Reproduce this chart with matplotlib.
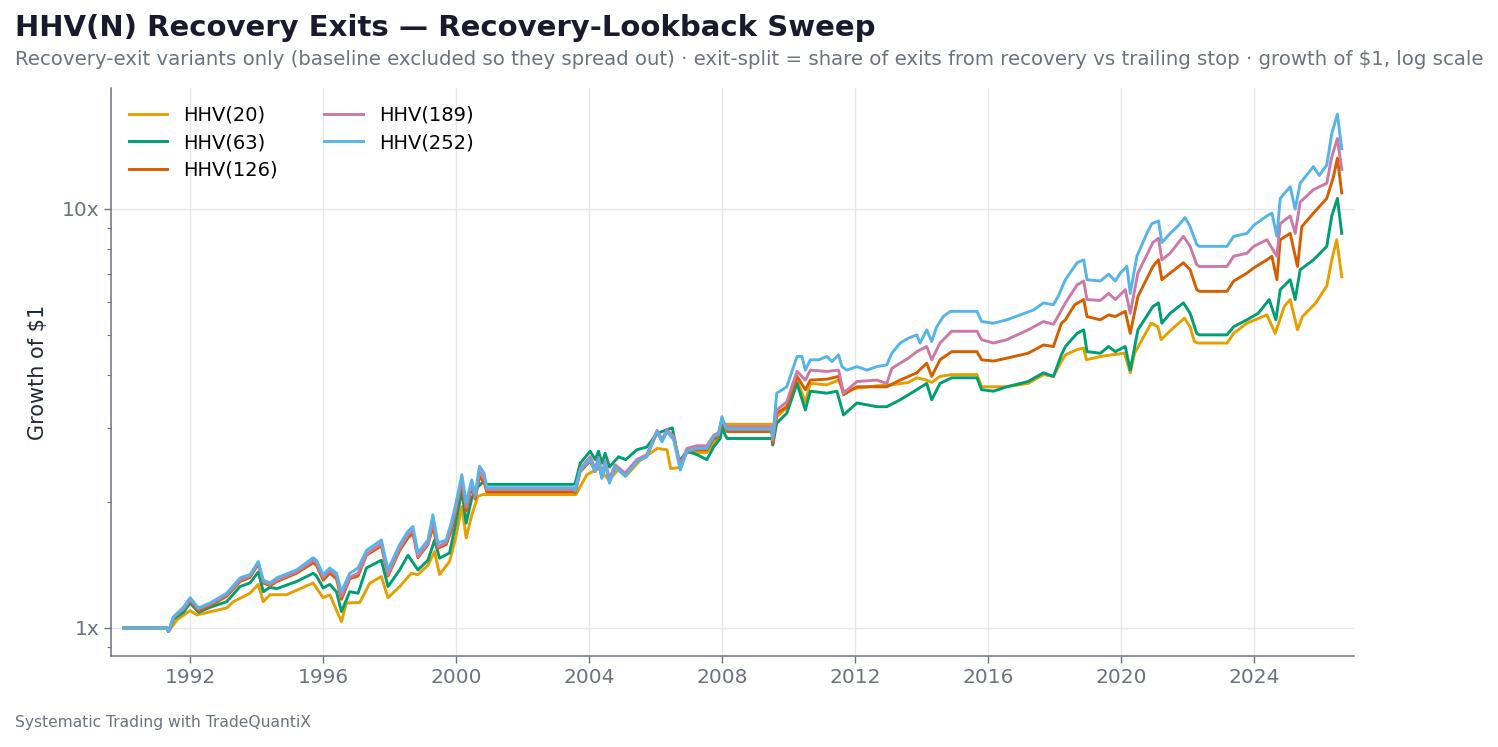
import numpy as np
import matplotlib
matplotlib.use("Agg")
import matplotlib.pyplot as plt
from matplotlib.ticker import FixedLocator, FixedFormatter, LogLocator, NullFormatter

# values (decimal year, growth of $1)
yr_20 = [1990.0, 1991.3, 1991.35, 1991.6, 1992.0, 1992.2, 1993.1, 1993.3, 1993.8, 1994.05, 1994.2, 1994.4,
         1994.9, 1995.7, 1996.0, 1996.2, 1996.55, 1996.7, 1997.1, 1997.4, 1997.75, 1997.95, 1998.3, 1998.65,
         1998.85, 1999.15, 1999.35, 1999.5, 1999.8, 1999.97, 2000.17, 2000.3, 2000.47, 2000.65, 2000.8,
         2003.53, 2003.6, 2003.93, 2004.28, 2004.6, 2004.9, 2005.1, 2005.5, 2006.04, 2006.34, 2006.45, 2006.7,
         2006.94, 2007.54, 2007.8, 2008.0, 2008.1, 2009.49, 2009.52, 2009.64, 2009.94, 2010.25, 2010.5,
         2010.65, 2011.15, 2011.5, 2011.65, 2012.05, 2012.65, 2013.1, 2013.6, 2013.85, 2014.15, 2014.3,
         2014.55, 2014.9, 2015.66, 2015.8, 2016.16, 2016.56, 2017.2, 2017.66, 2017.96, 2018.2, 2018.32,
         2018.67, 2018.87, 2018.95, 2019.37, 2019.7, 2020.1, 2020.27, 2020.4, 2020.9, 2021.1, 2021.2, 2021.5,
         2021.9, 2022.07, 2022.2, 2022.3, 2023.18, 2023.38, 2023.78, 2024.38, 2024.63, 2024.9, 2025.08,
         2025.3, 2025.45, 2025.85, 2026.18, 2026.33, 2026.48, 2026.63]
val_20 = [1.0, 1.0, 0.98, 1.045, 1.10, 1.074, 1.116, 1.155, 1.21, 1.27, 1.155, 1.20,
          1.20, 1.28, 1.18, 1.20, 1.035, 1.147, 1.15, 1.278, 1.326, 1.18, 1.255, 1.35,
          1.34, 1.41, 1.52, 1.34, 1.44, 1.62, 1.947, 1.64, 1.86, 2.06, 2.08,
          2.08, 2.08, 2.32, 2.40, 2.25, 2.40, 2.30, 2.495, 2.68, 2.66, 2.40, 2.41,
          2.62, 2.62, 2.78, 3.11, 3.06, 3.06, 2.80, 3.19, 3.35, 3.90, 3.46,
          3.83, 3.80, 3.90, 3.67, 3.73, 3.78, 3.80, 3.85, 3.95, 3.90, 3.85,
          3.98, 4.02, 4.02, 3.76, 3.76, 3.76, 3.83, 4.02, 3.98, 4.32, 4.48,
          4.61, 4.65, 4.36, 4.44, 4.48, 4.52, 4.06, 4.52, 5.33, 5.23, 4.87, 5.14,
          5.48, 5.23, 4.82, 4.78, 4.78, 5.04, 5.33, 5.58, 5.04, 5.84, 6.07,
          5.14, 5.53, 5.96, 6.54, 7.55, 8.43, 6.88]

yr_63 = [1990.0, 1991.3, 1991.35, 1991.5, 1991.8, 1992.0, 1992.25, 1992.6, 1993.1, 1993.5, 1993.8, 1994.05,
         1994.2, 1994.4, 1994.6, 1995.2, 1995.7, 1995.8, 1996.0, 1996.2, 1996.4, 1996.55, 1996.8, 1997.05,
         1997.3, 1997.75, 1997.95, 1998.3, 1998.55, 1998.85, 1999.15, 1999.35, 1999.5, 1999.8, 1999.97,
         2000.17, 2000.3, 2000.47, 2000.65, 2000.84, 2000.92, 2003.53, 2003.58, 2003.73, 2004.03, 2004.18,
         2004.28, 2004.38, 2004.48, 2004.61, 2004.88, 2005.1, 2005.43, 2005.73, 2006.04, 2006.34, 2006.5,
         2006.7, 2006.94, 2007.24, 2007.54, 2007.74, 2007.94, 2008.0, 2008.09, 2008.15, 2009.49, 2009.52,
         2009.64, 2009.94, 2010.25, 2010.5, 2010.65, 2011.15, 2011.45, 2011.65, 2012.05, 2012.65, 2012.95,
         2013.35, 2013.85, 2014.15, 2014.3, 2014.55, 2014.9, 2015.66, 2015.8, 2016.16, 2016.56, 2017.2,
         2017.66, 2017.96, 2018.2, 2018.32, 2018.67, 2018.87, 2018.97, 2019.37, 2019.62, 2019.82, 2020.12,
         2020.27, 2020.5, 2020.95, 2021.12, 2021.22, 2021.47, 2021.87, 2022.07, 2022.27, 2022.35, 2023.18,
         2023.38, 2023.78, 2024.12, 2024.45, 2024.65, 2024.78, 2025.08, 2025.23, 2025.38, 2025.78, 2026.18,
         2026.33, 2026.5, 2026.63]
val_63 = [1.0, 1.0, 0.98, 1.05, 1.09, 1.147, 1.09, 1.12, 1.155, 1.255, 1.28, 1.36,
          1.22, 1.25, 1.24, 1.29, 1.35, 1.33, 1.245, 1.27, 1.22, 1.094, 1.22, 1.21,
          1.39, 1.45, 1.255, 1.375, 1.49, 1.375, 1.45, 1.62, 1.466, 1.51, 1.745,
          2.135, 1.777, 2.04, 2.17, 2.24, 2.20, 2.20, 2.215, 2.47, 2.64, 2.52,
          2.64, 2.47, 2.61, 2.42, 2.56, 2.52, 2.66, 2.70, 2.91, 2.97, 3.0,
          2.495, 2.64, 2.59, 2.52, 2.70, 2.83, 3.02, 2.88, 2.83, 2.83, 2.73,
          3.08, 3.25, 3.83, 3.31, 3.67, 3.63, 3.67, 3.22, 3.44, 3.37, 3.37,
          3.50, 3.70, 3.83, 3.50, 3.83, 3.95, 3.95, 3.70, 3.67, 3.76, 3.87,
          4.06, 3.98, 4.48, 4.69, 5.04, 5.14, 4.56, 4.52, 4.69, 4.56, 4.69,
          4.12, 5.14, 5.84, 5.96, 5.33, 5.63, 5.96, 5.63, 5.04, 5.0, 5.0,
          5.23, 5.43, 5.63, 6.07, 5.43, 6.41, 6.77, 6.07, 7.15, 7.55, 8.13,
          9.61, 10.58, 8.73]

yr_126 = [1990.0, 1991.3, 1991.35, 1991.5, 1991.8, 1992.0, 1992.25, 1992.6, 1993.1, 1993.5, 1993.8, 1994.05,
          1994.2, 1994.4, 1994.6, 1995.2, 1995.7, 1995.8, 1996.0, 1996.2, 1996.4, 1996.55, 1996.8, 1997.05,
          1997.3, 1997.75, 1997.95, 1998.3, 1998.55, 1998.7, 1998.85, 1999.15, 1999.3, 1999.45, 1999.7,
          1999.85, 1999.97, 2000.17, 2000.3, 2000.47, 2000.57, 2000.7, 2000.84, 2000.92, 2003.53, 2003.58,
          2003.73, 2004.03, 2004.18, 2004.28, 2004.38, 2004.48, 2004.61, 2004.78, 2005.08, 2005.43, 2005.73,
          2006.04, 2006.19, 2006.34, 2006.54, 2006.74, 2006.94, 2007.24, 2007.54, 2007.74, 2007.89, 2007.99,
          2008.09, 2008.15, 2009.49, 2009.52, 2009.64, 2009.94, 2010.25, 2010.5, 2010.65, 2011.15, 2011.5,
          2011.65, 2012.05, 2012.65, 2012.95, 2013.35, 2013.85, 2014.15, 2014.3, 2014.55, 2014.9, 2015.66,
          2015.8, 2016.16, 2016.56, 2017.2, 2017.66, 2017.96, 2018.2, 2018.32, 2018.6, 2018.87, 2018.97,
          2019.37, 2019.62, 2019.82, 2020.12, 2020.27, 2020.5, 2020.95, 2021.12, 2021.22, 2021.47, 2021.87,
          2022.07, 2022.27, 2022.35, 2023.18, 2023.38, 2023.78, 2023.98, 2024.38, 2024.53, 2024.68, 2024.78,
          2025.08, 2025.3, 2025.43, 2025.78, 2026.18, 2026.38, 2026.5, 2026.63]
val_126 = [1.0, 1.0, 0.98, 1.06, 1.11, 1.16, 1.10, 1.13, 1.19, 1.29, 1.32, 1.42,
           1.28, 1.26, 1.29, 1.35, 1.43, 1.41, 1.30, 1.35, 1.31, 1.17, 1.31, 1.33,
           1.49, 1.57, 1.33, 1.53, 1.64, 1.68, 1.47, 1.58, 1.74, 1.55, 1.58,
           1.70, 1.86, 2.22, 1.90, 2.17, 2.03, 2.30, 2.22, 2.11, 2.11, 2.10,
           2.36, 2.50, 2.36, 2.50, 2.28, 2.46, 2.24, 2.42, 2.32, 2.50, 2.57,
           2.92, 2.80, 2.94, 2.84, 2.43, 2.64, 2.66, 2.66, 2.82, 2.86, 3.12,
           3.0, 2.94, 2.94, 2.76, 3.25, 3.37, 3.98, 3.70, 3.90, 3.92, 3.98,
           3.60, 3.76, 3.76, 3.76, 3.90, 4.06, 4.28, 3.98, 4.36, 4.56, 4.56,
           4.36, 4.33, 4.40, 4.52, 4.73, 4.69, 5.33, 5.43, 5.90, 6.07, 5.53,
           5.43, 5.58, 5.53, 5.69, 5.04, 6.17, 7.28, 7.55, 6.77, 7.02, 7.43,
           7.15, 6.41, 6.35, 6.35, 6.72, 7.02, 7.22, 7.55, 7.70, 6.77, 8.43,
           8.73, 7.28, 9.06, 9.76, 10.58, 11.9, 13.2, 10.9]

yr_189 = [1990.0, 1991.3, 1991.35, 1991.5, 1991.8, 1992.0, 1992.25, 1992.6, 1993.1, 1993.5, 1993.8, 1994.05,
          1994.2, 1994.4, 1994.6, 1995.2, 1995.7, 1995.8, 1996.0, 1996.2, 1996.4, 1996.55, 1996.8, 1997.05,
          1997.3, 1997.75, 1997.95, 1998.3, 1998.55, 1998.7, 1998.85, 1999.15, 1999.3, 1999.45, 1999.7,
          1999.85, 1999.97, 2000.17, 2000.3, 2000.47, 2000.57, 2000.7, 2000.84, 2000.92, 2003.53, 2003.58,
          2003.73, 2004.03, 2004.18, 2004.28, 2004.38, 2004.48, 2004.61, 2004.78, 2005.08, 2005.43, 2005.73,
          2006.04, 2006.19, 2006.34, 2006.54, 2006.74, 2006.94, 2007.24, 2007.54, 2007.74, 2007.89, 2007.99,
          2008.09, 2008.15, 2009.49, 2009.52, 2009.64, 2009.94, 2010.25, 2010.5, 2010.65, 2011.15, 2011.5,
          2011.65, 2012.05, 2012.65, 2012.95, 2013.1, 2013.6, 2013.85, 2014.15, 2014.3, 2014.55, 2014.9,
          2015.66, 2015.8, 2016.16, 2016.56, 2017.2, 2017.66, 2017.96, 2018.15, 2018.32, 2018.67, 2018.87,
          2018.97, 2019.37, 2019.62, 2019.82, 2020.12, 2020.27, 2020.5, 2020.95, 2021.12, 2021.22, 2021.47,
          2021.87, 2022.07, 2022.27, 2022.35, 2023.18, 2023.38, 2023.78, 2023.98, 2024.38, 2024.68, 2024.78,
          2025.08, 2025.23, 2025.38, 2025.78, 2026.18, 2026.33, 2026.5, 2026.63]
val_189 = [1.0, 1.0, 0.98, 1.06, 1.11, 1.17, 1.11, 1.14, 1.20, 1.30, 1.33, 1.43,
           1.29, 1.27, 1.30, 1.36, 1.45, 1.43, 1.32, 1.37, 1.33, 1.19, 1.32, 1.35,
           1.50, 1.59, 1.34, 1.55, 1.67, 1.71, 1.48, 1.59, 1.80, 1.56, 1.60,
           1.74, 1.90, 2.27, 1.94, 2.21, 2.05, 2.36, 2.28, 2.14, 2.14, 2.12,
           2.40, 2.56, 2.40, 2.55, 2.32, 2.50, 2.27, 2.45, 2.34, 2.52, 2.59,
           2.96, 2.82, 2.97, 2.86, 2.45, 2.68, 2.72, 2.72, 2.88, 2.92, 3.15,
           3.05, 3.02, 3.02, 2.80, 3.31, 3.46, 4.09, 3.90, 4.12, 4.09, 4.12,
           3.63, 3.87, 3.90, 3.83, 4.16, 4.40, 4.56, 4.69, 4.36, 4.78, 5.10,
           5.10, 4.87, 4.78, 4.87, 5.14, 5.38, 5.30, 5.63, 5.96, 6.58, 6.72,
           6.07, 6.04, 6.28, 6.07, 6.41, 5.63, 7.02, 8.30, 8.50, 7.55, 7.83,
           8.59, 8.13, 7.35, 7.28, 7.28, 7.70, 7.83, 8.13, 8.43, 7.70, 9.21,
           9.61, 8.73, 10.37, 11.1, 11.5, 13.3, 14.7, 12.4]

yr_252 = [1990.0, 1991.3, 1991.35, 1991.5, 1991.8, 1992.0, 1992.25, 1992.6, 1993.1, 1993.5, 1993.8, 1994.05,
          1994.2, 1994.4, 1994.6, 1995.2, 1995.7, 1995.8, 1996.0, 1996.2, 1996.4, 1996.55, 1996.8, 1997.05,
          1997.3, 1997.75, 1997.95, 1998.3, 1998.55, 1998.7, 1998.85, 1999.15, 1999.3, 1999.45, 1999.7,
          1999.85, 1999.97, 2000.17, 2000.3, 2000.47, 2000.57, 2000.7, 2000.84, 2000.92, 2003.53, 2003.58,
          2003.73, 2004.03, 2004.18, 2004.28, 2004.38, 2004.48, 2004.61, 2004.78, 2005.08, 2005.43, 2005.73,
          2006.04, 2006.19, 2006.34, 2006.54, 2006.74, 2006.94, 2007.24, 2007.54, 2007.74, 2007.89, 2007.99,
          2008.09, 2008.15, 2009.49, 2009.52, 2009.64, 2009.94, 2010.25, 2010.4, 2010.5, 2010.65, 2010.9,
          2011.15, 2011.3, 2011.5, 2011.6, 2011.75, 2012.05, 2012.35, 2012.65, 2012.95, 2013.1, 2013.35,
          2013.6, 2013.85, 2013.95, 2014.15, 2014.3, 2014.45, 2014.65, 2014.86, 2015.66, 2015.8, 2016.16,
          2016.56, 2016.96, 2017.36, 2017.66, 2017.96, 2018.1, 2018.32, 2018.67, 2018.87, 2018.97, 2019.37,
          2019.62, 2019.82, 2019.97, 2020.17, 2020.27, 2020.47, 2020.77, 2020.92, 2021.12, 2021.22, 2021.47,
          2021.72, 2021.92, 2022.07, 2022.27, 2022.35, 2023.18, 2023.38, 2023.78, 2023.98, 2024.38, 2024.53,
          2024.68, 2024.78, 2025.08, 2025.23, 2025.38, 2025.78, 2025.95, 2026.18, 2026.33, 2026.5, 2026.63]
val_252 = [1.0, 1.0, 0.98, 1.064, 1.12, 1.18, 1.116, 1.147, 1.21, 1.316, 1.34, 1.44,
           1.30, 1.28, 1.316, 1.375, 1.47, 1.45, 1.34, 1.39, 1.35, 1.22, 1.35, 1.39,
           1.53, 1.62, 1.375, 1.58, 1.70, 1.745, 1.51, 1.62, 1.86, 1.595, 1.62,
           1.777, 1.947, 2.32, 1.99, 2.255, 2.078, 2.43, 2.34, 2.16, 2.16, 2.13,
           2.38, 2.52, 2.36, 2.52, 2.275, 2.47, 2.215, 2.42, 2.30, 2.495, 2.56,
           2.94, 2.78, 2.94, 2.81, 2.38, 2.64, 2.68, 2.68, 2.86, 2.89, 3.19,
           3.02, 2.98, 2.98, 2.86, 3.63, 3.76, 4.44, 4.44, 4.12, 4.36, 4.36,
           4.44, 4.32, 4.48, 4.20, 4.12, 4.20, 4.12, 4.20, 4.24, 4.52, 4.78,
           4.91, 5.0, 4.78, 5.14, 4.82, 5.23, 5.53, 5.69, 5.69, 5.38, 5.33,
           5.43, 5.58, 5.73, 5.96, 5.90, 6.17, 6.77, 7.43, 7.55, 6.77, 6.72,
           6.98, 6.72, 7.02, 7.28, 6.28, 7.70, 8.73, 9.21, 9.35, 8.30, 8.73,
           9.12, 9.52, 9.06, 8.21, 8.13, 8.13, 8.59, 8.73, 9.12, 9.61, 9.76,
           8.59, 10.58, 11.28, 9.97, 11.5, 12.6, 12.0, 12.7, 15.1, 16.8, 13.9]

labels = ["HHV(20)", "HHV(63)", "HHV(126)", "HHV(189)", "HHV(252)"]
colors = ["#E69F00", "#009E73", "#D55E00", "#CC79A7", "#56B4E9"]
series = [(yr_20, val_20), (yr_63, val_63), (yr_126, val_126), (yr_189, val_189), (yr_252, val_252)]
year_ticks = [1992, 1996, 2000, 2004, 2008, 2012, 2016, 2020, 2024]

grey = "#6b7280"

fig = plt.figure(figsize=(14.98, 7.47), dpi=100)
ax = fig.add_axes([0.0741, 0.1218, 0.8298, 0.7604])

for (x, y), lab, c in zip(series, labels, colors):
    ax.plot(x, y, color=c, lw=2.1, label=lab, solid_joinstyle="round")

ax.set_yscale("log")
ax.set_xlim(1989.62, 2027.0)
ax.set_ylim(0.857, 19.4)

ax.yaxis.set_major_locator(FixedLocator([1, 10]))
ax.yaxis.set_major_formatter(FixedFormatter(["1x", "10x"]))
ax.yaxis.set_minor_locator(LogLocator(base=10, subs=np.arange(2, 10) * 1.0))
ax.yaxis.set_minor_formatter(NullFormatter())
ax.set_xticks(year_ticks)
ax.set_xticklabels([str(t) for t in year_ticks])

ax.grid(True, which="major", color="#e5e7eb", lw=1.0)
ax.set_axisbelow(True)
for s in ["top", "right"]:
    ax.spines[s].set_visible(False)
for s in ["left", "bottom"]:
    ax.spines[s].set_color(grey)
    ax.spines[s].set_linewidth(1.1)
ax.tick_params(axis="both", which="major", colors=grey, labelsize=14.5, length=5, width=1.0)
ax.tick_params(axis="y", which="minor", colors=grey, length=3, width=0.8)

ax.set_ylabel(r"Growth of \$1", fontsize=15, color="#1f2937", labelpad=10)

ax.legend(loc="upper left", ncol=2, frameon=False, fontsize=14, handlelength=2.0,
          columnspacing=2.4, borderaxespad=0.5, labelspacing=0.45)

fig.text(0.01, 0.962, "HHV(N) Recovery Exits — Recovery-Lookback Sweep", fontsize=21,
         fontweight="bold", color="#1a1a2e", va="center", ha="left")
fig.text(0.01, 0.921, "Recovery-exit variants only (baseline excluded so they spread out) · exit-split = "
         "share of exits from recovery vs trailing stop · growth of \\$1, log scale",
         fontsize=14.2, color=grey, va="center", ha="left")
fig.text(0.01, 0.033, "Systematic Trading with TradeQuantiX", fontsize=11.2, color=grey,
         va="center", ha="left")

fig.savefig("out.png", dpi=100)
